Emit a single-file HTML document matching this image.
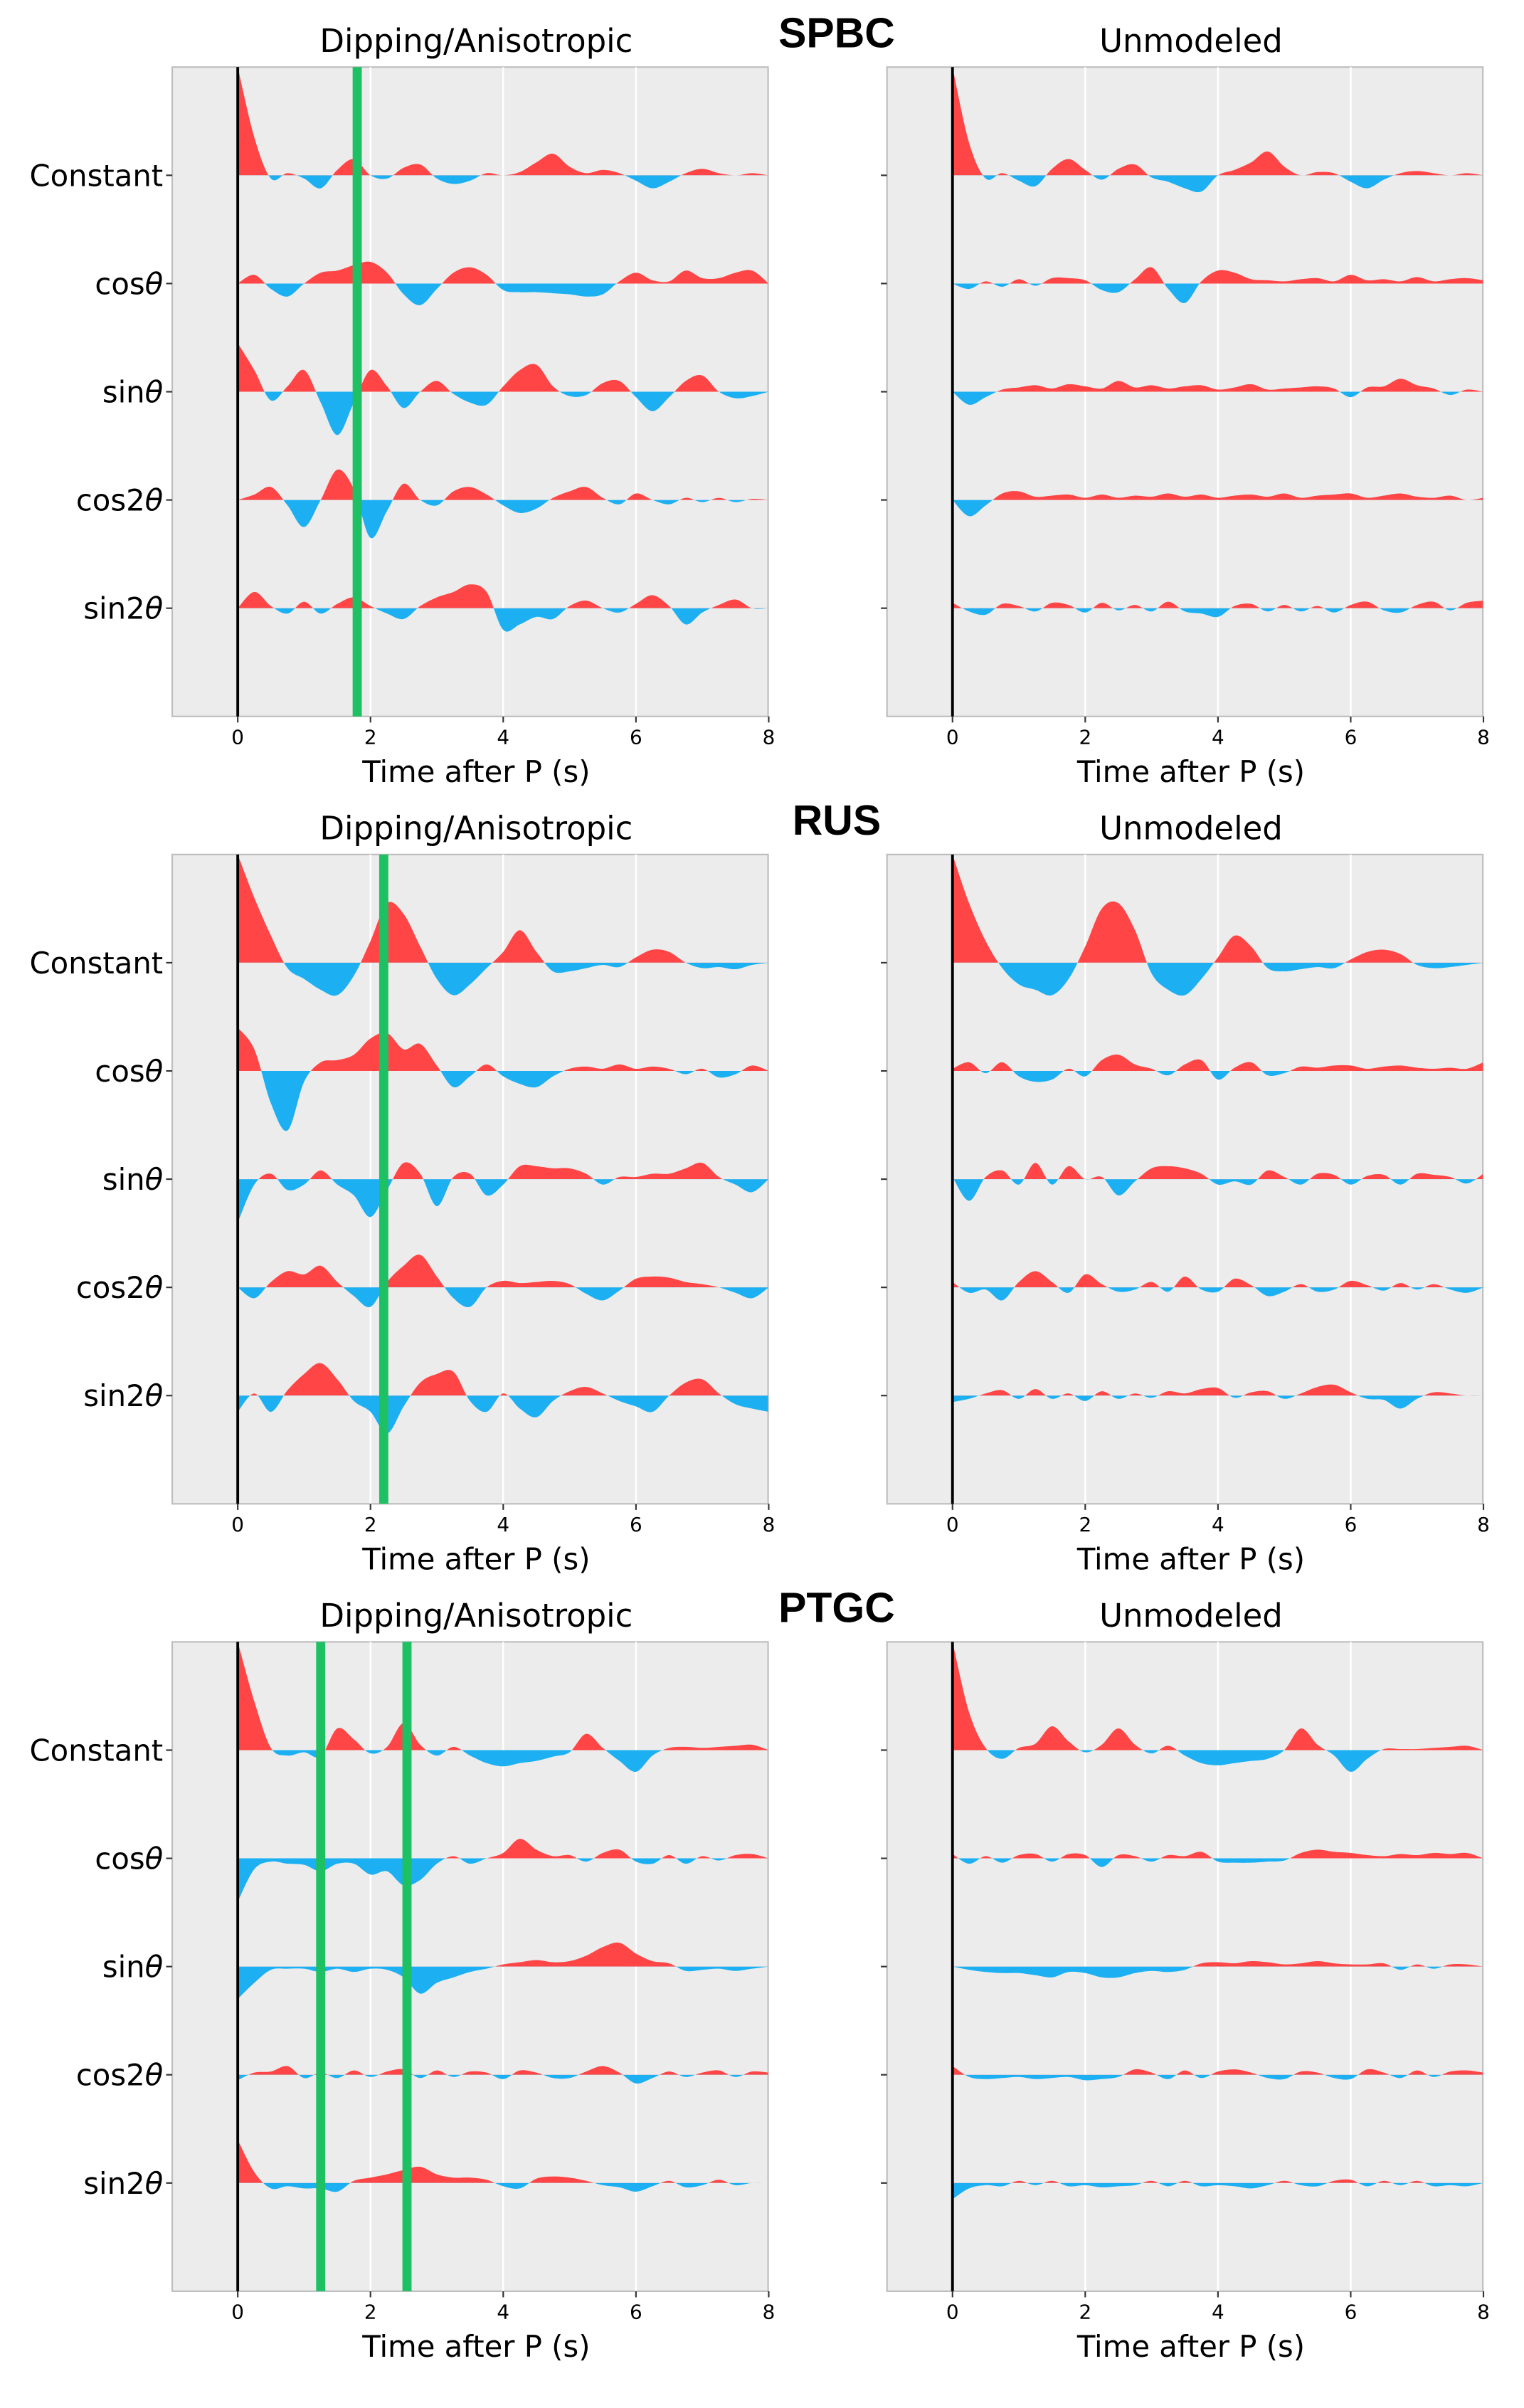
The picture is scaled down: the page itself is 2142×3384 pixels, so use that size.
<!DOCTYPE html>
<html><head><meta charset="utf-8"><style>
html,body{margin:0;padding:0;background:#fff;}
svg{display:block;}
text{font-family:"DejaVu Sans","Liberation Sans",sans-serif;}
</style></head><body>
<svg id="fig" width="2142" height="3384" viewBox="0 0 1000 1579.8" xmlns="http://www.w3.org/2000/svg"></svg>
<script>
const times = [];
for (let i = 0; i <= 32; i++) times.push(i * 0.25);
const xTicks = [0, 2, 4, 6, 8];
const gridTimes = [2, 4, 6];
const rowLabels = ["Constant", "cos", "sin", "cos2", "sin2"];
const stations = ["SPBC", "RUS", "PTGC"];
const panelTitles = ["Dipping/Anisotropic", "Unmodeled"];
const greenLines = [[1.8], [2.2], [1.25, 2.55]];

const spbcDip = [
[1.0,0.35,-0.03,0.02,-0.03,-0.12,0.05,0.15,0.0,-0.03,0.07,0.1,-0.03,-0.08,-0.05,0.02,0.0,0.03,0.12,0.2,0.08,0.02,0.05,0.02,-0.05,-0.12,-0.06,0.02,0.06,0.02,0.0,0.02,0.0],
[0.0,0.08,-0.05,-0.12,0.0,0.1,0.12,0.17,0.2,0.1,-0.1,-0.2,-0.05,0.1,0.15,0.08,-0.06,-0.08,-0.08,-0.09,-0.1,-0.12,-0.1,0.02,0.1,0.03,0.02,0.12,0.05,0.05,0.1,0.12,0.0],
[0.45,0.2,-0.08,0.05,0.2,-0.1,-0.4,-0.1,0.2,0.05,-0.15,0.0,0.1,-0.02,-0.1,-0.12,0.05,0.2,0.25,0.05,-0.04,-0.03,0.08,0.1,-0.05,-0.18,-0.05,0.1,0.15,0.0,-0.06,-0.04,0.0],
[0.0,0.05,0.12,-0.05,-0.25,0.0,0.28,0.1,-0.35,-0.1,0.15,0.0,-0.05,0.08,0.12,0.05,-0.05,-0.12,-0.08,0.02,0.08,0.12,0.02,-0.04,0.06,0.0,-0.04,0.02,-0.02,0.02,-0.02,0.01,0.0],
[0.0,0.15,0.02,-0.05,0.06,-0.05,0.04,0.1,0.02,-0.05,-0.1,0.02,0.1,0.15,0.22,0.15,-0.2,-0.15,-0.08,-0.1,0.02,0.07,0.0,-0.04,0.04,0.12,0.02,-0.15,-0.04,0.03,0.08,0.0,0.0]];
const spbcUnm = [
[1.0,0.3,-0.03,0.02,-0.05,-0.1,0.06,0.15,0.05,-0.04,0.06,0.1,-0.02,-0.06,-0.12,-0.15,0.0,0.05,0.12,0.22,0.08,0.0,0.03,0.02,-0.06,-0.12,-0.04,0.02,0.04,0.02,0.0,0.02,0.0],
[0.0,-0.05,0.02,-0.03,0.04,-0.02,0.05,0.05,0.03,-0.06,-0.08,0.04,0.15,-0.05,-0.18,0.02,0.12,0.1,0.04,0.03,0.02,0.04,0.05,0.02,0.08,0.03,0.04,0.02,0.06,0.02,0.04,0.05,0.03],
[0.0,-0.12,-0.05,0.02,0.04,0.06,0.03,0.07,0.05,0.03,0.1,0.04,0.06,0.03,0.05,0.06,0.02,0.04,0.07,0.02,0.03,0.04,0.05,0.03,-0.05,0.04,0.05,0.12,0.06,0.03,-0.03,0.02,0.0],
[0.0,-0.15,-0.05,0.06,0.08,0.03,0.04,0.05,0.02,0.05,0.02,0.04,0.03,0.06,0.03,0.05,0.02,0.04,0.05,0.03,0.06,0.02,0.04,0.05,0.06,0.02,0.04,0.06,0.03,0.02,0.04,0.0,0.02],
[0.05,-0.03,-0.06,0.04,0.02,-0.03,0.05,0.03,-0.04,0.05,-0.02,0.03,-0.03,0.06,-0.03,-0.05,-0.08,0.02,0.04,-0.03,0.03,-0.03,0.02,-0.04,0.03,0.06,-0.02,-0.04,0.03,0.06,-0.02,0.05,0.07]];
const rusDip = [
[1.0,0.6,0.25,-0.05,-0.15,-0.25,-0.3,-0.12,0.2,0.55,0.45,0.15,-0.15,-0.3,-0.2,-0.05,0.1,0.3,0.1,-0.08,-0.08,-0.05,-0.02,-0.04,0.05,0.12,0.1,0.0,-0.05,-0.04,-0.06,-0.02,0.0],
[0.4,0.2,-0.3,-0.55,-0.1,0.08,0.1,0.15,0.3,0.35,0.2,0.25,0.05,-0.15,-0.05,0.06,-0.05,-0.12,-0.15,-0.05,0.02,0.04,0.02,0.06,0.02,0.04,0.02,-0.03,0.02,-0.06,-0.03,0.05,0.0],
[-0.4,-0.05,0.05,-0.1,-0.05,0.08,-0.05,-0.15,-0.35,-0.1,0.15,0.05,-0.25,0.02,0.05,-0.15,-0.05,0.12,0.12,0.1,0.1,0.05,-0.05,0.02,0.02,0.05,0.05,0.1,0.15,0.02,-0.05,-0.12,0.0],
[0.0,-0.1,0.05,0.15,0.12,0.2,0.05,-0.08,-0.18,0.05,0.2,0.3,0.1,-0.1,-0.18,0.0,0.06,0.04,0.05,0.06,0.03,-0.06,-0.12,-0.03,0.08,0.1,0.09,0.05,0.03,0.0,-0.05,-0.1,0.0],
[-0.15,0.02,-0.15,0.05,0.2,0.3,0.15,-0.05,-0.15,-0.35,-0.1,0.12,0.2,0.22,-0.05,-0.15,0.02,-0.12,-0.2,-0.05,0.04,0.08,0.02,-0.05,-0.1,-0.15,0.0,0.12,0.15,0.02,-0.08,-0.12,-0.15]];
const rusUnm = [
[1.0,0.55,0.2,-0.05,-0.2,-0.25,-0.3,-0.15,0.15,0.5,0.55,0.3,-0.1,-0.25,-0.3,-0.15,0.05,0.25,0.15,-0.05,-0.08,-0.06,-0.04,-0.05,0.03,0.1,0.12,0.08,-0.02,-0.05,-0.04,-0.02,0.0],
[0.02,0.08,-0.02,0.08,-0.05,-0.1,-0.08,0.02,-0.05,0.1,0.15,0.06,0.02,-0.04,0.06,0.1,-0.08,0.03,0.08,-0.04,-0.02,0.04,0.03,0.05,0.05,0.02,0.04,0.05,0.03,0.02,0.03,0.02,0.08],
[0.02,-0.2,0.02,0.08,-0.05,0.15,-0.05,0.12,0.0,0.02,-0.15,-0.02,0.1,0.12,0.1,0.05,-0.05,-0.02,-0.05,0.08,0.02,-0.05,0.05,0.04,-0.05,0.03,0.04,-0.05,0.05,0.04,0.02,-0.04,0.05],
[0.05,-0.05,-0.02,-0.12,0.05,0.15,0.05,-0.05,0.12,0.03,-0.04,-0.02,0.05,-0.04,0.1,-0.02,-0.04,0.08,0.02,-0.08,-0.04,0.03,-0.04,-0.02,0.06,0.02,-0.03,0.04,-0.02,0.03,-0.02,-0.05,0.0],
[-0.06,-0.03,0.02,0.05,-0.03,0.06,-0.03,0.02,-0.05,0.04,-0.03,0.02,-0.02,0.04,0.02,0.06,0.07,-0.02,0.03,0.04,-0.03,0.02,0.08,0.1,0.03,-0.03,-0.04,-0.12,-0.03,0.03,0.02,0.0,0.0]];
const ptgcDip = [
[1.0,0.45,0.02,-0.05,-0.02,-0.06,0.2,0.1,-0.03,0.03,0.25,0.05,-0.05,0.03,-0.05,-0.12,-0.15,-0.12,-0.1,-0.06,-0.02,0.15,0.02,-0.1,-0.2,-0.05,0.02,0.03,0.02,0.03,0.04,0.05,0.0],
[-0.4,-0.1,-0.03,-0.05,-0.06,-0.12,-0.05,-0.05,-0.15,-0.12,-0.25,-0.2,-0.05,0.02,-0.05,0.0,0.05,0.18,0.08,0.02,0.03,-0.03,0.05,0.08,-0.03,-0.05,0.03,-0.05,0.02,-0.02,0.03,0.04,0.0],
[-0.3,-0.15,-0.03,-0.02,-0.02,-0.05,-0.02,-0.05,-0.02,-0.03,-0.1,-0.25,-0.15,-0.1,-0.05,-0.02,0.02,0.04,0.06,0.04,0.05,0.1,0.18,0.22,0.12,0.05,0.03,-0.04,-0.03,-0.02,-0.04,-0.02,0.0],
[-0.05,0.02,0.03,0.08,-0.03,0.02,-0.03,0.04,-0.02,0.03,0.05,-0.03,0.04,-0.02,0.03,0.02,-0.04,0.04,0.02,-0.03,-0.03,0.03,0.08,0.02,-0.08,-0.03,0.03,-0.02,0.02,0.04,-0.02,0.03,0.02],
[0.4,0.1,-0.05,-0.03,-0.05,-0.05,-0.08,0.02,0.05,0.08,0.12,0.15,0.08,0.05,0.05,0.03,-0.03,-0.05,0.04,0.06,0.05,0.02,-0.02,-0.04,-0.08,-0.03,0.02,-0.04,-0.02,0.03,-0.02,0.0,0.0]];
const ptgcUnm = [
[1.0,0.35,0.02,-0.08,0.02,0.06,0.22,0.08,-0.02,0.05,0.2,0.05,-0.03,0.04,-0.05,-0.12,-0.14,-0.12,-0.1,-0.08,0.0,0.2,0.05,-0.05,-0.2,-0.08,0.01,0.01,0.01,0.02,0.03,0.04,0.0],
[0.04,-0.05,0.02,-0.04,0.03,0.04,-0.03,0.04,0.03,-0.08,0.03,0.02,-0.03,0.03,0.02,0.06,-0.03,-0.04,-0.04,-0.03,-0.02,0.05,0.08,0.06,0.05,0.03,0.02,0.04,0.03,0.05,0.04,0.05,0.0],
[0.0,-0.03,-0.05,-0.06,-0.06,-0.08,-0.1,-0.05,-0.06,-0.1,-0.1,-0.06,-0.04,-0.05,-0.03,0.03,0.04,0.03,0.05,0.04,0.02,0.03,0.05,0.03,0.02,0.02,0.03,-0.03,0.02,-0.02,0.02,0.02,0.0],
[0.08,-0.02,-0.04,-0.03,-0.02,-0.04,-0.03,-0.02,-0.05,-0.04,-0.02,0.05,0.02,-0.04,0.04,-0.03,0.03,0.05,0.02,-0.03,-0.04,0.03,0.02,-0.03,-0.04,0.05,0.02,-0.03,0.04,-0.02,0.03,0.04,0.02],
[-0.15,-0.05,-0.02,-0.03,0.02,-0.02,0.02,-0.03,-0.02,-0.04,-0.03,-0.02,0.02,-0.03,0.02,-0.03,-0.02,-0.03,-0.05,-0.02,0.02,-0.02,-0.03,0.02,0.03,-0.03,0.02,-0.02,0.02,-0.03,-0.02,-0.03,0.0]];
const allData = [[spbcDip, spbcUnm], [rusDip, rusUnm], [ptgcDip, ptgcUnm]];

const NS = "http://www.w3.org/2000/svg";
const svg = document.getElementById("fig");
function mk(tag, attrs, parent) {
  const e = document.createElementNS(NS, tag);
  for (const k in attrs) e.setAttribute(k, attrs[k]);
  (parent || svg).appendChild(e);
  return e;
}
const PANEL_X = [113, 582];
const PANEL_W = 391;
const PANEL_H = 426;
const ROW = 71;
let clipId = 0;

stations.forEach((st, p) => {
  const top = 44 + p * 516.6;
  const lbl = mk("text", {x: 549, y: top - 13, "text-anchor": "middle", "font-size": 27.5, "font-weight": "bold", fill: "#000", style: "font-family:'Liberation Sans',sans-serif"});
  
  
  lbl.textContent = st;
  [0, 1].forEach(side => {
    const x0 = PANEL_X[side];
    const xs = t => x0 + 43 + t * 43.55;
    const g = mk("g", {});
    
    
    mk("rect", {x: x0, y: top, width: PANEL_W, height: PANEL_H, fill: "#ececec", stroke: "#bdbdbd", "stroke-width": 1}, g);
    gridTimes.forEach(t => mk("line", {x1: xs(t), x2: xs(t), y1: top, y2: top + PANEL_H, stroke: "#fff", "stroke-width": 1.2}, g));
    const cid = "pc" + (clipId++);
    const cp = mk("clipPath", {id: cid}, g);
    mk("rect", {x: x0, y: top, width: PANEL_W, height: PANEL_H}, cp);
    const tr = mk("g", {"clip-path": "url(#" + cid + ")"}, g);
    const data = allData[p][side];
    data.forEach((vals, r) => {
      const base = top + ROW * (r + 1);
      const pts = vals.map((v, i) => [xs(times[i]), base - v * ROW]);
      let d = "M" + pts[0][0] + "," + base + " L" + pts[0][0] + "," + pts[0][1];
      for (let i = 0; i < pts.length - 1; i++) {
        const p0 = pts[Math.max(0, i - 1)], p1 = pts[i], p2 = pts[i + 1], p3 = pts[Math.min(pts.length - 1, i + 2)];
        const c1 = [p1[0] + (p2[0] - p0[0]) / 6, p1[1] + (p2[1] - p0[1]) / 6];
        const c2 = [p2[0] - (p3[0] - p1[0]) / 6, p2[1] - (p3[1] - p1[1]) / 6];
        d += " C" + c1[0] + "," + c1[1] + " " + c2[0] + "," + c2[1] + " " + p2[0] + "," + p2[1];
      }
      d += " L" + pts[pts.length - 1][0] + "," + base + " Z";
      const ca = "ca" + (clipId++), cb = "cb" + (clipId++);
      const a = mk("clipPath", {id: ca}, tr); mk("rect", {x: x0, y: top, width: PANEL_W, height: base - top}, a);
      const b = mk("clipPath", {id: cb}, tr); mk("rect", {x: x0, y: base, width: PANEL_W, height: top + PANEL_H - base}, b);
      const pos = mk("path", {d: d, fill: "#ff4545", "clip-path": "url(#" + ca + ")"}, tr);
      
      
      const neg = mk("path", {d: d, fill: "#1cb0f2", "clip-path": "url(#" + cb + ")"}, tr);
      
      
      mk("line", {x1: x0 - 4, x2: x0, y1: base, y2: base, stroke: "#333", "stroke-width": 1}, g);
      if (side === 0) {
        const t = mk("text", {x: 107, y: base + 7, "text-anchor": "end", "font-size": 19.5, fill: "#000"}, g);
        
        
        t.textContent = rowLabels[r];
        if (r > 0) { const th = mk("tspan", {"font-style": "italic"}, t); th.textContent = "θ"; }
      }
    });
    mk("line", {x1: xs(0), x2: xs(0), y1: top, y2: top + PANEL_H, stroke: "#000", "stroke-width": 1.8}, g);
    if (side === 0) greenLines[p].forEach(t => {
      const gl = mk("line", {x1: xs(t), x2: xs(t), y1: top, y2: top + PANEL_H, stroke: "#1ec064", "stroke-width": 6}, g);
      
      
    });
    xTicks.forEach(t => {
      mk("line", {x1: xs(t), x2: xs(t), y1: top + PANEL_H, y2: top + PANEL_H + 4, stroke: "#333", "stroke-width": 1}, g);
      const tl = mk("text", {x: xs(t), y: top + PANEL_H + 18, "text-anchor": "middle", "font-size": 13, fill: "#000"}, g);
      
      
      tl.textContent = t;
    });
    const xl = mk("text", {x: x0 + PANEL_W / 2 + 4, y: top + PANEL_H + 43, "text-anchor": "middle", "font-size": 19.5, fill: "#000"}, g);
    
    
    xl.textContent = "Time after P (s)";
    const ti = mk("text", {x: x0 + PANEL_W / 2 + 4, y: top - 10, "text-anchor": "middle", "font-size": 21, fill: "#000"}, g);
    
    
    ti.textContent = panelTitles[side];
  });
});
</script>
</body></html>
